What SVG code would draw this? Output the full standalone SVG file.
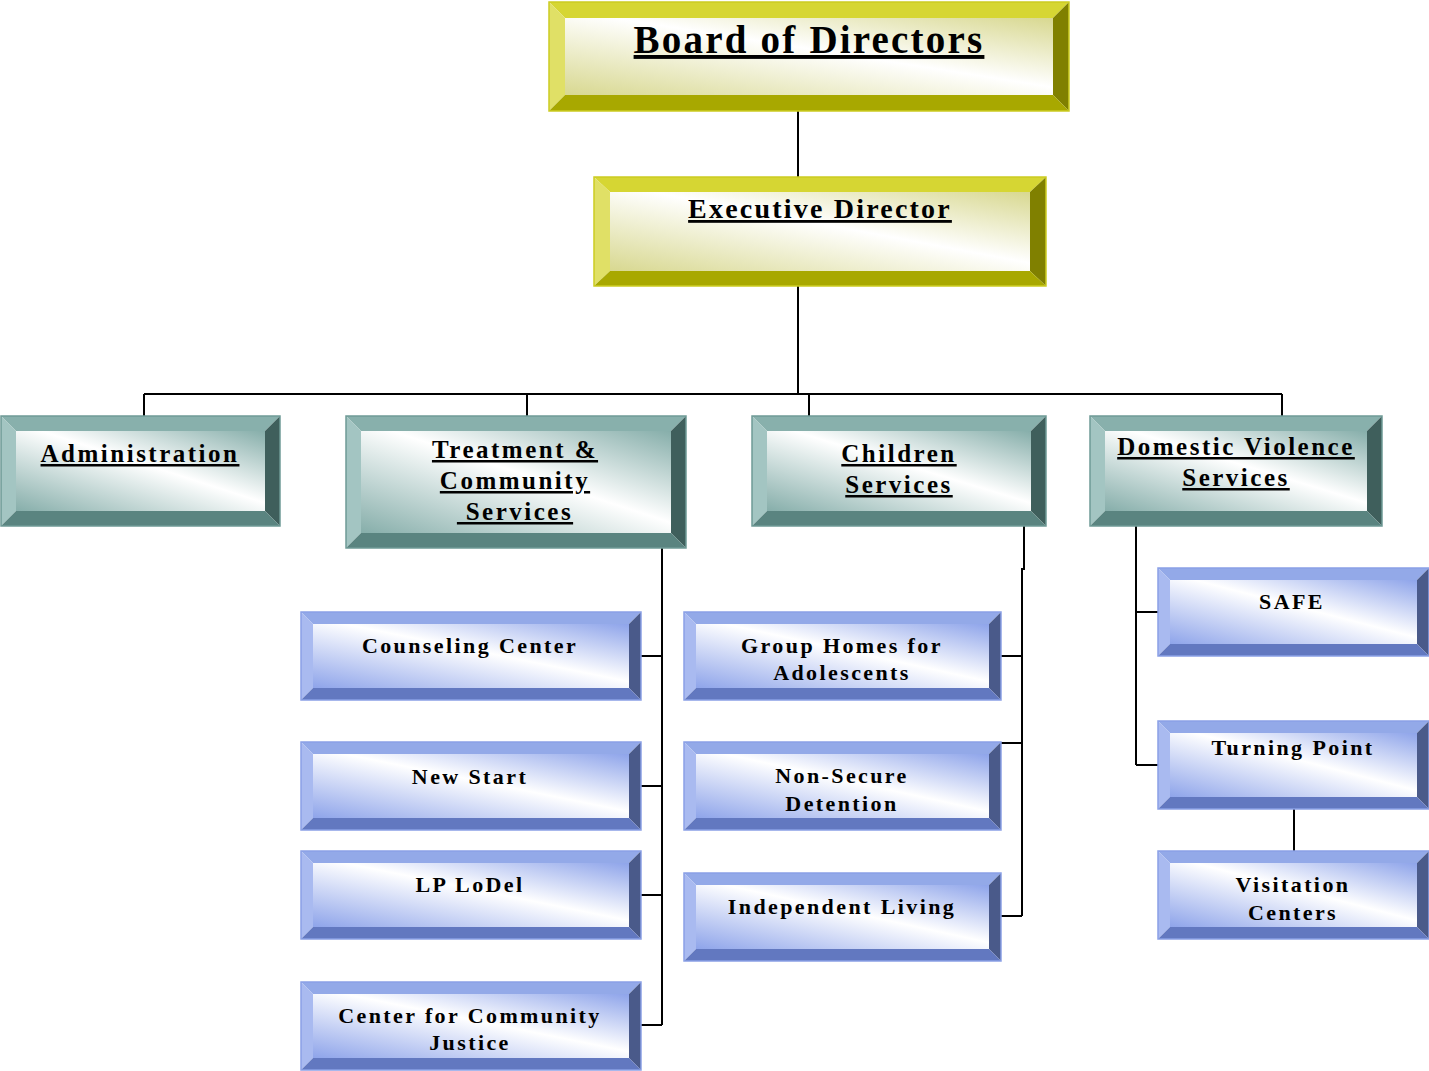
<svg xmlns="http://www.w3.org/2000/svg" width="1429" height="1071" viewBox="0 0 1429 1071">
<style>
text{font-family:"Liberation Serif","Times New Roman",serif;font-weight:bold;fill:#000;text-anchor:middle}
.t1{font-size:39px;letter-spacing:2.2px;text-decoration:underline}
.t2{font-size:28px;letter-spacing:2.2px;text-decoration:underline}
.t3{font-size:25px;letter-spacing:2.5px;text-decoration:underline}
.t4{font-size:22px;letter-spacing:2.4px}
.yl .tp{fill:#d6d633}.yl .lf{fill:#e0e066}.yl .rt{fill:#808000}.yl .bt{fill:#a8a800}.yl .fc{fill:url(#gy)}.yl .ol{fill:none;stroke:#cccc22;stroke-width:1.5}
.tl .tp{fill:#88b0ac}.tl .lf{fill:#a3c5c2}.tl .rt{fill:#3f5f5c}.tl .bt{fill:#5a8480}.tl .fc{fill:url(#gt)}.tl .ol{fill:none;stroke:#6f9a96;stroke-width:1.5}
.bl .tp{fill:#93a9e8}.bl .lf{fill:#a9baf0}.bl .rt{fill:#4a5a8a}.bl .bt{fill:#6278c0}.bl .fc{fill:url(#gb)}.bl .ol{fill:none;stroke:#8aa0e6;stroke-width:1.5}
.cn{fill:none;stroke:#000;stroke-width:2}
</style>
<defs>
<linearGradient id="gy" x1="0" y1="1" x2="1" y2="0"><stop offset="0" stop-color="#d8d890"/><stop offset="0.55" stop-color="#ffffff"/><stop offset="1" stop-color="#d8d890"/></linearGradient>
<linearGradient id="gt" x1="0" y1="1" x2="1" y2="0"><stop offset="0" stop-color="#86aeaa"/><stop offset="0.55" stop-color="#ffffff"/><stop offset="1" stop-color="#86aeaa"/></linearGradient>
<linearGradient id="gb" x1="0" y1="1" x2="1" y2="0"><stop offset="0" stop-color="#8ea4ea"/><stop offset="0.55" stop-color="#ffffff"/><stop offset="1" stop-color="#8ea4ea"/></linearGradient>
</defs>

<g id="connectors">
<path class="cn" d="M798 111V177M798 286V394M144 394H1282M144 394V416M527 394V416M809 394V416M1282 394V416"/>
<path class="cn" d="M662 548V1025M641 656H662M641 786H662M641 895H662M641 1025H662"/>
<path class="cn" d="M1024 526V570M1022 568V916M1001 656H1022M1001 743H1022M1001 916H1022"/>
<path class="cn" d="M1136 526V765M1136 612H1158M1136 765H1158M1294 809V851"/>
</g>

<g id="board" class="yl">
<polygon class="tp" points="549,2 1069,2 1053,18 565,18"/>
<polygon class="lf" points="549,2 565,18 565,95 549,111"/>
<polygon class="rt" points="1069,2 1069,111 1053,95 1053,18"/>
<polygon class="bt" points="549,111 1069,111 1053,95 565,95"/>
<rect class="fc" x="565" y="18" width="488" height="77"/>
<rect class="ol" x="549" y="2" width="520" height="109"/>
<text class="t1" x="809" y="53">Board of Directors</text>
</g>

<g id="exec" class="yl">
<polygon class="tp" points="594,177 1046,177 1030,192 610,192"/>
<polygon class="lf" points="594,177 610,192 610,271 594,286"/>
<polygon class="rt" points="1046,177 1046,286 1030,271 1030,192"/>
<polygon class="bt" points="594,286 1046,286 1030,271 610,271"/>
<rect class="fc" x="610" y="192" width="420" height="79"/>
<rect class="ol" x="594" y="177" width="452" height="109"/>
<text class="t2" x="820" y="218">Executive Director</text>
</g>

<g id="admin" class="tl">
<polygon class="tp" points="1,416 280,416 265,431 16,431"/>
<polygon class="lf" points="1,416 16,431 16,511 1,526"/>
<polygon class="rt" points="280,416 280,526 265,511 265,431"/>
<polygon class="bt" points="1,526 280,526 265,511 16,511"/>
<rect class="fc" x="16" y="431" width="249" height="80"/>
<rect class="ol" x="1" y="416" width="279" height="110"/>
<text class="t3" x="140" y="462">Administration</text>
</g>

<g id="treatment" class="tl">
<polygon class="tp" points="346,416 686,416 671,431 361,431"/>
<polygon class="lf" points="346,416 361,431 361,533 346,548"/>
<polygon class="rt" points="686,416 686,548 671,533 671,431"/>
<polygon class="bt" points="346,548 686,548 671,533 361,533"/>
<rect class="fc" x="361" y="431" width="310" height="102"/>
<rect class="ol" x="346" y="416" width="340" height="132"/>
<text class="t3" x="515" y="458">Treatment &amp;</text>
<text class="t3" x="515" y="489">Community</text>
<text class="t3" x="515" y="520">&#160;Services</text>
</g>

<g id="children" class="tl">
<polygon class="tp" points="752,416 1046,416 1031,431 767,431"/>
<polygon class="lf" points="752,416 767,431 767,511 752,526"/>
<polygon class="rt" points="1046,416 1046,526 1031,511 1031,431"/>
<polygon class="bt" points="752,526 1046,526 1031,511 767,511"/>
<rect class="fc" x="767" y="431" width="264" height="80"/>
<rect class="ol" x="752" y="416" width="294" height="110"/>
<text class="t3" x="899" y="462">Children</text>
<text class="t3" x="899" y="493">Services</text>
</g>

<g id="dv" class="tl">
<polygon class="tp" points="1090,416 1382,416 1367,431 1105,431"/>
<polygon class="lf" points="1090,416 1105,431 1105,511 1090,526"/>
<polygon class="rt" points="1382,416 1382,526 1367,511 1367,431"/>
<polygon class="bt" points="1090,526 1382,526 1367,511 1105,511"/>
<rect class="fc" x="1105" y="431" width="262" height="80"/>
<rect class="ol" x="1090" y="416" width="292" height="110"/>
<text class="t3" x="1236" y="455">Domestic Violence</text>
<text class="t3" x="1236" y="486">Services</text>
</g>

<g id="counseling" class="bl">
<polygon class="tp" points="301,612 641,612 629,624 313,624"/>
<polygon class="lf" points="301,612 313,624 313,688 301,700"/>
<polygon class="rt" points="641,612 641,700 629,688 629,624"/>
<polygon class="bt" points="301,700 641,700 629,688 313,688"/>
<rect class="fc" x="313" y="624" width="316" height="64"/>
<rect class="ol" x="301" y="612" width="340" height="88"/>
<text class="t4" x="470" y="653">Counseling Center</text>
</g>

<g id="newstart" class="bl">
<polygon class="tp" points="301,742 641,742 629,754 313,754"/>
<polygon class="lf" points="301,742 313,754 313,818 301,830"/>
<polygon class="rt" points="641,742 641,830 629,818 629,754"/>
<polygon class="bt" points="301,830 641,830 629,818 313,818"/>
<rect class="fc" x="313" y="754" width="316" height="64"/>
<rect class="ol" x="301" y="742" width="340" height="88"/>
<text class="t4" x="470" y="784">New Start</text>
</g>

<g id="lplodel" class="bl">
<polygon class="tp" points="301,851 641,851 629,863 313,863"/>
<polygon class="lf" points="301,851 313,863 313,927 301,939"/>
<polygon class="rt" points="641,851 641,939 629,927 629,863"/>
<polygon class="bt" points="301,939 641,939 629,927 313,927"/>
<rect class="fc" x="313" y="863" width="316" height="64"/>
<rect class="ol" x="301" y="851" width="340" height="88"/>
<text class="t4" x="470" y="892">LP LoDel</text>
</g>

<g id="ccj" class="bl">
<polygon class="tp" points="301,982 641,982 629,994 313,994"/>
<polygon class="lf" points="301,982 313,994 313,1058 301,1070"/>
<polygon class="rt" points="641,982 641,1070 629,1058 629,994"/>
<polygon class="bt" points="301,1070 641,1070 629,1058 313,1058"/>
<rect class="fc" x="313" y="994" width="316" height="64"/>
<rect class="ol" x="301" y="982" width="340" height="88"/>
<text class="t4" x="470" y="1023">Center for Community</text>
<text class="t4" x="470" y="1050">Justice</text>
</g>

<g id="grouphomes" class="bl">
<polygon class="tp" points="684,612 1001,612 989,624 696,624"/>
<polygon class="lf" points="684,612 696,624 696,688 684,700"/>
<polygon class="rt" points="1001,612 1001,700 989,688 989,624"/>
<polygon class="bt" points="684,700 1001,700 989,688 696,688"/>
<rect class="fc" x="696" y="624" width="293" height="64"/>
<rect class="ol" x="684" y="612" width="317" height="88"/>
<text class="t4" x="842" y="653">Group Homes for</text>
<text class="t4" x="842" y="680">Adolescents</text>
</g>

<g id="nonsecure" class="bl">
<polygon class="tp" points="684,742 1001,742 989,754 696,754"/>
<polygon class="lf" points="684,742 696,754 696,818 684,830"/>
<polygon class="rt" points="1001,742 1001,830 989,818 989,754"/>
<polygon class="bt" points="684,830 1001,830 989,818 696,818"/>
<rect class="fc" x="696" y="754" width="293" height="64"/>
<rect class="ol" x="684" y="742" width="317" height="88"/>
<text class="t4" x="842" y="783">Non-Secure</text>
<text class="t4" x="842" y="811">Detention</text>
</g>

<g id="independent" class="bl">
<polygon class="tp" points="684,873 1001,873 989,885 696,885"/>
<polygon class="lf" points="684,873 696,885 696,949 684,961"/>
<polygon class="rt" points="1001,873 1001,961 989,949 989,885"/>
<polygon class="bt" points="684,961 1001,961 989,949 696,949"/>
<rect class="fc" x="696" y="885" width="293" height="64"/>
<rect class="ol" x="684" y="873" width="317" height="88"/>
<text class="t4" x="842" y="914">Independent Living</text>
</g>

<g id="safe" class="bl">
<polygon class="tp" points="1158,568 1429,568 1417,580 1170,580"/>
<polygon class="lf" points="1158,568 1170,580 1170,644 1158,656"/>
<polygon class="rt" points="1429,568 1429,656 1417,644 1417,580"/>
<polygon class="bt" points="1158,656 1429,656 1417,644 1170,644"/>
<rect class="fc" x="1170" y="580" width="247" height="64"/>
<rect class="ol" x="1158" y="568" width="271" height="88"/>
<text class="t4" x="1292" y="609">SAFE</text>
</g>

<g id="turningpoint" class="bl">
<polygon class="tp" points="1158,721 1429,721 1417,733 1170,733"/>
<polygon class="lf" points="1158,721 1170,733 1170,797 1158,809"/>
<polygon class="rt" points="1429,721 1429,809 1417,797 1417,733"/>
<polygon class="bt" points="1158,809 1429,809 1417,797 1170,797"/>
<rect class="fc" x="1170" y="733" width="247" height="64"/>
<rect class="ol" x="1158" y="721" width="271" height="88"/>
<text class="t4" x="1293" y="755">Turning Point</text>
</g>

<g id="visitation" class="bl">
<polygon class="tp" points="1158,851 1429,851 1417,863 1170,863"/>
<polygon class="lf" points="1158,851 1170,863 1170,927 1158,939"/>
<polygon class="rt" points="1429,851 1429,939 1417,927 1417,863"/>
<polygon class="bt" points="1158,939 1429,939 1417,927 1170,927"/>
<rect class="fc" x="1170" y="863" width="247" height="64"/>
<rect class="ol" x="1158" y="851" width="271" height="88"/>
<text class="t4" x="1293" y="892">Visitation</text>
<text class="t4" x="1293" y="920">Centers</text>
</g>
</svg>
